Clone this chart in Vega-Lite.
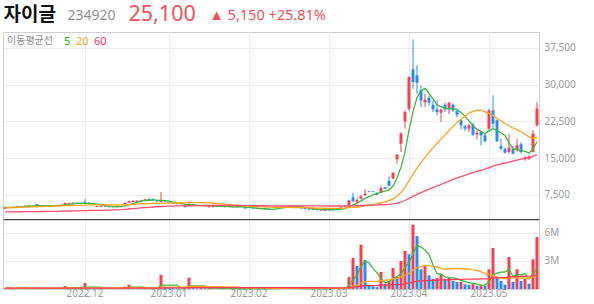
{
"$schema":"https://vega.github.io/schema/vega-lite/v6.json",
"padding":{"left":1,"top":2,"right":0,"bottom":0},
"bounds":"flush",
"spacing":1,
"resolve":{"legend":{"color":"independent"}},
"config":{"view":{"stroke":"#cfcfcf"},"font":"Noto Sans","axis":{"labelFont":"Noto Sans","labelColor":"#9a9a9a","labelFontSize":10,"gridColor":"#ececec","ticks":false,"domain":false}},
"data":{"values":[
{"d":"2022-11-03","o":4600,"h":5050,"l":4550,"c":4950,"v":80000,"m5":4900,"m20":4800,"m60":3980,"v5":70000,"v20":80000,"v60":85000},
{"d":"2022-11-04","o":4950,"h":5050,"l":4800,"c":4850,"v":210000,"m5":4900,"m20":4830,"m60":3990,"v5":100000,"v20":90000,"v60":85000},
{"d":"2022-11-07","o":4850,"h":5100,"l":4800,"c":5000,"v":90000,"m5":4920,"m20":4860,"m60":4000,"v5":100000,"v20":90000,"v60":85000},
{"d":"2022-11-08","o":5000,"h":5200,"l":4950,"c":5150,"v":70000,"m5":4970,"m20":4890,"m60":4010,"v5":100000,"v20":90000,"v60":85000},
{"d":"2022-11-09","o":5150,"h":5200,"l":5000,"c":5050,"v":60000,"m5":5000,"m20":4920,"m60":4020,"v5":100000,"v20":90000,"v60":85000},
{"d":"2022-11-10","o":5050,"h":5350,"l":5000,"c":5250,"v":200000,"m5":5060,"m20":4950,"m60":4030,"v5":130000,"v20":100000,"v60":86000},
{"d":"2022-11-11","o":5200,"h":5400,"l":5150,"c":5350,"v":80000,"m5":5160,"m20":4980,"m60":4040,"v5":100000,"v20":100000,"v60":86000},
{"d":"2022-11-14","o":5350,"h":5400,"l":5200,"c":5250,"v":60000,"m5":5210,"m20":5010,"m60":4050,"v5":90000,"v20":100000,"v60":86000},
{"d":"2022-11-15","o":5550,"h":5650,"l":5250,"c":5300,"v":100000,"m5":5240,"m20":5040,"m60":4060,"v5":100000,"v20":100000,"v60":86000},
{"d":"2022-11-16","o":5300,"h":5350,"l":5200,"c":5250,"v":70000,"m5":5280,"m20":5070,"m60":4070,"v5":100000,"v20":100000,"v60":87000},
{"d":"2022-11-17","o":5250,"h":5300,"l":5100,"c":5150,"v":50000,"m5":5260,"m20":5100,"m60":4080,"v5":70000,"v20":100000,"v60":87000},
{"d":"2022-11-18","o":5150,"h":5300,"l":5100,"c":5250,"v":60000,"m5":5240,"m20":5130,"m60":4090,"v5":70000,"v20":100000,"v60":87000},
{"d":"2022-11-21","o":5250,"h":5300,"l":5150,"c":5200,"v":50000,"m5":5230,"m20":5160,"m60":4100,"v5":70000,"v20":100000,"v60":87000},
{"d":"2022-11-22","o":5200,"h":5400,"l":5150,"c":5350,"v":70000,"m5":5240,"m20":5190,"m60":4110,"v5":60000,"v20":100000,"v60":87000},
{"d":"2022-11-23","o":5350,"h":5500,"l":5300,"c":5450,"v":90000,"m5":5280,"m20":5220,"m60":4130,"v5":60000,"v20":100000,"v60":88000},
{"d":"2022-11-24","o":5450,"h":5900,"l":5400,"c":5800,"v":320000,"m5":5410,"m20":5250,"m60":4150,"v5":120000,"v20":110000,"v60":88000},
{"d":"2022-11-25","o":5650,"h":5850,"l":5600,"c":5800,"v":120000,"m5":5520,"m20":5270,"m60":4170,"v5":130000,"v20":110000,"v60":88000},
{"d":"2022-11-28","o":5650,"h":5900,"l":5600,"c":5850,"v":90000,"m5":5650,"m20":5290,"m60":4190,"v5":140000,"v20":110000,"v60":89000},
{"d":"2022-11-29","o":5850,"h":5900,"l":5650,"c":5700,"v":80000,"m5":5720,"m20":5310,"m60":4210,"v5":140000,"v20":100000,"v60":89000},
{"d":"2022-11-30","o":5800,"h":5900,"l":5600,"c":5650,"v":70000,"m5":5760,"m20":5330,"m60":4230,"v5":140000,"v20":100000,"v60":89000},
{"d":"2022-12-01","o":6000,"h":6650,"l":5650,"c":5700,"v":640000,"m5":5740,"m20":5368,"m60":4250,"v5":200000,"v20":130000,"v60":95000},
{"d":"2022-12-02","o":5850,"h":5900,"l":5600,"c":5650,"v":150000,"m5":5710,"m20":5408,"m60":4270,"v5":210000,"v20":130000,"v60":95000},
{"d":"2022-12-05","o":5700,"h":5750,"l":5550,"c":5600,"v":100000,"m5":5660,"m20":5438,"m60":4290,"v5":210000,"v20":130000,"v60":95000},
{"d":"2022-12-06","o":5000,"h":5200,"l":4950,"c":5150,"v":80000,"m5":5550,"m20":5438,"m60":4300,"v5":210000,"v20":130000,"v60":95000},
{"d":"2022-12-07","o":5000,"h":5200,"l":4950,"c":5150,"v":70000,"m5":5450,"m20":5443,"m60":4310,"v5":210000,"v20":130000,"v60":95000},
{"d":"2022-12-08","o":5150,"h":5200,"l":4950,"c":5000,"v":90000,"m5":5310,"m20":5430,"m60":4330,"v5":100000,"v20":130000,"v60":95000},
{"d":"2022-12-09","o":5150,"h":5200,"l":4900,"c":4950,"v":60000,"m5":5170,"m20":5410,"m60":4350,"v5":80000,"v20":130000,"v60":95000},
{"d":"2022-12-12","o":4950,"h":5150,"l":4900,"c":5100,"v":50000,"m5":5070,"m20":5403,"m60":4380,"v5":70000,"v20":130000,"v60":95000},
{"d":"2022-12-13","o":4950,"h":5150,"l":4900,"c":5100,"v":60000,"m5":5060,"m20":5393,"m60":4410,"v5":70000,"v20":130000,"v60":95000},
{"d":"2022-12-14","o":5000,"h":5200,"l":4950,"c":5150,"v":50000,"m5":5060,"m20":5388,"m60":4450,"v5":60000,"v20":130000,"v60":95000},
{"d":"2022-12-15","o":5550,"h":5900,"l":5500,"c":5850,"v":250000,"m5":5230,"m20":5423,"m60":4510,"v5":90000,"v20":140000,"v60":97000},
{"d":"2022-12-16","o":5850,"h":6300,"l":5800,"c":6150,"v":460000,"m5":5470,"m20":5468,"m60":4580,"v5":170000,"v20":160000,"v60":100000},
{"d":"2022-12-19","o":6000,"h":6350,"l":5950,"c":6250,"v":120000,"m5":5700,"m20":5520,"m60":4650,"v5":190000,"v20":160000,"v60":100000},
{"d":"2022-12-20","o":6050,"h":6350,"l":6000,"c":6300,"v":90000,"m5":5940,"m20":5568,"m60":4720,"v5":190000,"v20":160000,"v60":100000},
{"d":"2022-12-21","o":6100,"h":6400,"l":6050,"c":6350,"v":100000,"m5":6180,"m20":5613,"m60":4790,"v5":200000,"v20":160000,"v60":100000},
{"d":"2022-12-22","o":6250,"h":6650,"l":6200,"c":6550,"v":110000,"m5":6320,"m20":5650,"m60":4860,"v5":180000,"v20":140000,"v60":100000},
{"d":"2022-12-23","o":6600,"h":6700,"l":6350,"c":6400,"v":100000,"m5":6370,"m20":5680,"m60":4930,"v5":100000,"v20":140000,"v60":100000},
{"d":"2022-12-26","o":6650,"h":6700,"l":6450,"c":6500,"v":80000,"m5":6420,"m20":5713,"m60":4990,"v5":100000,"v20":140000,"v60":100000},
{"d":"2022-12-27","o":6400,"h":6450,"l":6050,"c":6100,"v":70000,"m5":6380,"m20":5733,"m60":5040,"v5":90000,"v20":130000,"v60":100000},
{"d":"2022-12-28","o":6050,"h":8050,"l":6000,"c":6250,"v":1530000,"m5":6360,"m20":5763,"m60":5090,"v5":380000,"v20":200000,"v60":122000},
{"d":"2022-12-29","o":6300,"h":6350,"l":6050,"c":6100,"v":250000,"m5":6270,"m20":5783,"m60":5130,"v5":410000,"v20":210000,"v60":124000},
{"d":"2023-01-02","o":6100,"h":6150,"l":5850,"c":5900,"v":120000,"m5":6170,"m20":5795,"m60":5160,"v5":410000,"v20":210000,"v60":124000},
{"d":"2023-01-03","o":5700,"h":5750,"l":5550,"c":5600,"v":100000,"m5":5990,"m20":5795,"m60":5180,"v5":410000,"v20":210000,"v60":124000},
{"d":"2023-01-04","o":5550,"h":5700,"l":5500,"c":5650,"v":80000,"m5":5900,"m20":5820,"m60":5200,"v5":420000,"v20":210000,"v60":124000},
{"d":"2023-01-05","o":5600,"h":5650,"l":5500,"c":5550,"v":70000,"m5":5760,"m20":5840,"m60":5210,"v5":120000,"v20":210000,"v60":124000},
{"d":"2023-01-06","o":5300,"h":5350,"l":4900,"c":4950,"v":150000,"m5":5530,"m20":5838,"m60":5220,"v5":100000,"v20":210000,"v60":125000},
{"d":"2023-01-09","o":5200,"h":6200,"l":5150,"c":5600,"v":1210000,"m5":5470,"m20":5870,"m60":5240,"v5":320000,"v20":270000,"v60":145000},
{"d":"2023-01-10","o":5600,"h":5650,"l":5400,"c":5450,"v":100000,"m5":5440,"m20":5888,"m60":5250,"v5":320000,"v20":270000,"v60":145000},
{"d":"2023-01-11","o":5300,"h":5350,"l":5150,"c":5200,"v":80000,"m5":5350,"m20":5893,"m60":5260,"v5":320000,"v20":270000,"v60":145000},
{"d":"2023-01-12","o":5300,"h":5350,"l":5150,"c":5200,"v":100000,"m5":5280,"m20":5895,"m60":5270,"v5":330000,"v20":270000,"v60":145000},
{"d":"2023-01-13","o":5250,"h":5300,"l":5100,"c":5150,"v":90000,"m5":5320,"m20":5860,"m60":5280,"v5":320000,"v20":270000,"v60":145000},
{"d":"2023-01-16","o":4950,"h":5350,"l":4900,"c":5250,"v":100000,"m5":5250,"m20":5815,"m60":5290,"v5":90000,"v20":250000,"v60":145000},
{"d":"2023-01-17","o":4950,"h":5300,"l":4900,"c":5250,"v":80000,"m5":5210,"m20":5765,"m60":5300,"v5":90000,"v20":250000,"v60":145000},
{"d":"2023-01-18","o":5200,"h":5250,"l":4950,"c":5000,"v":60000,"m5":5170,"m20":5700,"m60":5300,"v5":90000,"v20":250000,"v60":144000},
{"d":"2023-01-19","o":5150,"h":5200,"l":4950,"c":5000,"v":50000,"m5":5130,"m20":5633,"m60":5300,"v5":80000,"v20":240000,"v60":144000},
{"d":"2023-01-20","o":4950,"h":5200,"l":4900,"c":5150,"v":60000,"m5":5130,"m20":5563,"m60":5300,"v5":70000,"v20":230000,"v60":144000},
{"d":"2023-01-25","o":5150,"h":5200,"l":4950,"c":5000,"v":50000,"m5":5080,"m20":5493,"m60":5300,"v5":60000,"v20":230000,"v60":143000},
{"d":"2023-01-26","o":5000,"h":5050,"l":4900,"c":4950,"v":40000,"m5":5020,"m20":5415,"m60":5290,"v5":50000,"v20":220000,"v60":143000},
{"d":"2023-01-27","o":4950,"h":5150,"l":4900,"c":5100,"v":50000,"m5":5040,"m20":5365,"m60":5290,"v5":50000,"v20":220000,"v60":142000},
{"d":"2023-01-30","o":5100,"h":5150,"l":4950,"c":5000,"v":40000,"m5":5040,"m20":5303,"m60":5280,"v5":50000,"v20":150000,"v60":142000},
{"d":"2023-01-31","o":5000,"h":5050,"l":4650,"c":4700,"v":60000,"m5":4950,"m20":5233,"m60":5270,"v5":50000,"v20":140000,"v60":142000},
{"d":"2023-02-01","o":4950,"h":5000,"l":4750,"c":4800,"v":50000,"m5":4910,"m20":5178,"m60":5270,"v5":50000,"v20":130000,"v60":141000},
{"d":"2023-02-02","o":4850,"h":4900,"l":4650,"c":4700,"v":50000,"m5":4860,"m20":5133,"m60":5260,"v5":50000,"v20":130000,"v60":141000},
{"d":"2023-02-03","o":4800,"h":4850,"l":4550,"c":4600,"v":40000,"m5":4760,"m20":5080,"m60":5250,"v5":50000,"v20":130000,"v60":140000},
{"d":"2023-02-06","o":4700,"h":4750,"l":4500,"c":4550,"v":50000,"m5":4670,"m20":5030,"m60":5240,"v5":50000,"v20":130000,"v60":140000},
{"d":"2023-02-07","o":4650,"h":4700,"l":4450,"c":4500,"v":40000,"m5":4630,"m20":5008,"m60":5240,"v5":50000,"v20":120000,"v60":140000},
{"d":"2023-02-08","o":4650,"h":4700,"l":4400,"c":4450,"v":50000,"m5":4560,"m20":4950,"m60":5230,"v5":50000,"v20":70000,"v60":139000},
{"d":"2023-02-09","o":4550,"h":4600,"l":4400,"c":4450,"v":40000,"m5":4510,"m20":4900,"m60":5230,"v5":40000,"v20":70000,"v60":139000},
{"d":"2023-02-10","o":4850,"h":5200,"l":4800,"c":5150,"v":80000,"m5":4620,"m20":4898,"m60":5230,"v5":50000,"v20":70000,"v60":138000},
{"d":"2023-02-13","o":4900,"h":5200,"l":4850,"c":5150,"v":70000,"m5":4740,"m20":4895,"m60":5230,"v5":60000,"v20":70000,"v60":138000},
{"d":"2023-02-14","o":4950,"h":5250,"l":4900,"c":5200,"v":60000,"m5":4880,"m20":4898,"m60":5230,"v5":60000,"v20":70000,"v60":137000},
{"d":"2023-02-15","o":4950,"h":5250,"l":4900,"c":5150,"v":50000,"m5":5020,"m20":4893,"m60":5230,"v5":60000,"v20":70000,"v60":137000},
{"d":"2023-02-16","o":5000,"h":5250,"l":4950,"c":5200,"v":60000,"m5":5170,"m20":4890,"m60":5230,"v5":60000,"v20":70000,"v60":136000},
{"d":"2023-02-17","o":5200,"h":5250,"l":5000,"c":5050,"v":50000,"m5":5150,"m20":4893,"m60":5220,"v5":60000,"v20":60000,"v60":136000},
{"d":"2023-02-20","o":4950,"h":5000,"l":4650,"c":4700,"v":50000,"m5":5060,"m20":4878,"m60":5220,"v5":50000,"v20":60000,"v60":135000},
{"d":"2023-02-21","o":4800,"h":4850,"l":4550,"c":4600,"v":40000,"m5":4940,"m20":4850,"m60":5210,"v5":50000,"v20":60000,"v60":135000},
{"d":"2023-02-22","o":4700,"h":4750,"l":4400,"c":4450,"v":50000,"m5":4800,"m20":4823,"m60":5210,"v5":50000,"v20":60000,"v60":134000},
{"d":"2023-02-23","o":4400,"h":4650,"l":4350,"c":4600,"v":40000,"m5":4680,"m20":4805,"m60":5200,"v5":50000,"v20":60000,"v60":134000},
{"d":"2023-02-24","o":4600,"h":4650,"l":4300,"c":4350,"v":50000,"m5":4540,"m20":4768,"m60":5200,"v5":50000,"v20":60000,"v60":133000},
{"d":"2023-02-27","o":4250,"h":4600,"l":4200,"c":4550,"v":60000,"m5":4510,"m20":4745,"m60":5200,"v5":50000,"v20":60000,"v60":133000},
{"d":"2023-02-28","o":4200,"h":4500,"l":4150,"c":4450,"v":50000,"m5":4480,"m20":4733,"m60":5200,"v5":50000,"v20":60000,"v60":132000},
{"d":"2023-03-02","o":4550,"h":4600,"l":4250,"c":4300,"v":60000,"m5":4450,"m20":4708,"m60":5190,"v5":50000,"v20":60000,"v60":131000},
{"d":"2023-03-03","o":4600,"h":4650,"l":4350,"c":4400,"v":80000,"m5":4410,"m20":4693,"m60":5190,"v5":60000,"v20":60000,"v60":130000},
{"d":"2023-03-06","o":4500,"h":4700,"l":4450,"c":4650,"v":70000,"m5":4470,"m20":4695,"m60":5190,"v5":60000,"v20":60000,"v60":129000},
{"d":"2023-03-07","o":4700,"h":5000,"l":4650,"c":4900,"v":100000,"m5":4540,"m20":4713,"m60":5194,"v5":70000,"v20":60000,"v60":128000},
{"d":"2023-03-08","o":4950,"h":5300,"l":4900,"c":5150,"v":200000,"m5":4680,"m20":4745,"m60":5197,"v5":100000,"v20":70000,"v60":127000},
{"d":"2023-03-09","o":5200,"h":6400,"l":5100,"c":6350,"v":1290000,"m5":5090,"m20":4840,"m60":5220,"v5":350000,"v20":130000,"v60":147000},
{"d":"2023-03-10","o":7000,"h":7900,"l":6000,"c":6150,"v":3320000,"m5":5440,"m20":4925,"m60":5238,"v5":1000000,"v20":290000,"v60":202000},
{"d":"2023-03-13","o":6050,"h":6800,"l":5700,"c":6400,"v":2460000,"m5":5790,"m20":4988,"m60":5259,"v5":1470000,"v20":410000,"v60":242000},
{"d":"2023-03-14","o":6700,"h":7500,"l":6500,"c":7150,"v":4750000,"m5":6240,"m20":5088,"m60":5293,"v5":2400000,"v20":640000,"v60":320000},
{"d":"2023-03-15","o":7400,"h":8600,"l":7300,"c":7700,"v":3110000,"m5":6750,"m20":5213,"m60":5323,"v5":2990000,"v20":790000,"v60":368000},
{"d":"2023-03-16","o":8200,"h":8300,"l":8000,"c":8050,"v":400000,"m5":7090,"m20":5358,"m60":5355,"v5":2810000,"v20":810000,"v60":367000},
{"d":"2023-03-17","o":8200,"h":8300,"l":8000,"c":8100,"v":290000,"m5":7480,"m20":5503,"m60":5386,"v5":2200000,"v20":820000,"v60":370000},
{"d":"2023-03-20","o":7900,"h":8000,"l":7400,"c":7500,"v":210000,"m5":7700,"m20":5625,"m60":5406,"v5":1750000,"v20":830000,"v60":372000},
{"d":"2023-03-21","o":7900,"h":9300,"l":7800,"c":8850,"v":1820000,"m5":8040,"m20":5833,"m60":5448,"v5":1170000,"v20":920000,"v60":400000},
{"d":"2023-03-22","o":9050,"h":9150,"l":8650,"c":8750,"v":570000,"m5":8250,"m20":6040,"m60":5484,"v5":660000,"v20":940000,"v60":408000},
{"d":"2023-03-24","o":10350,"h":11200,"l":9200,"c":9300,"v":860000,"m5":8500,"m20":6283,"m60":5533,"v5":750000,"v20":980000,"v60":421000},
{"d":"2023-03-27","o":10770,"h":12100,"l":10700,"c":12000,"v":2250000,"m5":9280,"m20":6653,"m60":5624,"v5":1140000,"v20":1090000,"v60":457000},
{"d":"2023-03-28","o":14740,"h":15800,"l":13840,"c":15680,"v":1290000,"m5":10916,"m20":7219,"m60":5784,"v5":1360000,"v20":1150000,"v60":477000},
{"d":"2023-03-29","o":17930,"h":20300,"l":16230,"c":19970,"v":3000000,"m5":13140,"m20":7990,"m60":6013,"v5":1590000,"v20":1300000,"v60":502000},
{"d":"2023-03-31","o":22500,"h":24800,"l":21000,"c":24400,"v":4070000,"m5":16270,"m20":8988,"m60":6318,"v5":2290000,"v20":1500000,"v60":565000},
{"d":"2023-04-03","o":25080,"h":31700,"l":24600,"c":31560,"v":3720000,"m5":20722,"m20":10351,"m60":6745,"v5":2870000,"v20":1680000,"v60":625000},
{"d":"2023-04-04","o":33130,"h":39260,"l":29170,"c":30540,"v":6890000,"m5":24430,"m20":11658,"m60":7161,"v5":3790000,"v20":2020000,"v60":739000},
{"d":"2023-04-05","o":31900,"h":33950,"l":28150,"c":30400,"v":5680000,"m5":27374,"m20":12945,"m60":7573,"v5":4670000,"v20":2300000,"v60":832000},
{"d":"2023-04-06","o":28840,"h":29860,"l":25430,"c":26800,"v":2110000,"m5":28740,"m20":14040,"m60":7928,"v5":4490000,"v20":2400000,"v60":866000},
{"d":"2023-04-07","o":26400,"h":28150,"l":25430,"c":26900,"v":2460000,"m5":29240,"m20":15128,"m60":8293,"v5":4170000,"v20":2520000,"v60":904000},
{"d":"2023-04-10","o":27330,"h":27700,"l":25700,"c":26300,"v":1470000,"m5":28188,"m20":16125,"m60":8638,"v5":3720000,"v20":2530000,"v60":909000},
{"d":"2023-04-11","o":25900,"h":26800,"l":24400,"c":24960,"v":1100000,"m5":27072,"m20":17066,"m60":8964,"v5":2560000,"v20":2420000,"v60":925000},
{"d":"2023-04-12","o":24960,"h":26800,"l":23730,"c":24400,"v":1180000,"m5":25872,"m20":17966,"m60":9284,"v5":1660000,"v20":2360000,"v60":944000},
{"d":"2023-04-13","o":24260,"h":25100,"l":22360,"c":24880,"v":1640000,"m5":25488,"m20":18852,"m60":9612,"v5":1570000,"v20":2200000,"v60":969000},
{"d":"2023-04-14","o":25900,"h":26300,"l":24400,"c":24960,"v":1100000,"m5":25100,"m20":19715,"m60":9942,"v5":1300000,"v20":2100000,"v60":986000},
{"d":"2023-04-17","o":24960,"h":26500,"l":24000,"c":26300,"v":1180000,"m5":25100,"m20":20628,"m60":10293,"v5":1240000,"v20":2140000,"v60":1004000},
{"d":"2023-04-18","o":25900,"h":26200,"l":24400,"c":24750,"v":860000,"m5":25058,"m20":21460,"m60":10618,"v5":1190000,"v20":2170000,"v60":1017000},
{"d":"2023-04-19","o":24600,"h":25000,"l":23400,"c":23860,"v":750000,"m5":24950,"m20":22278,"m60":10932,"v5":1110000,"v20":2200000,"v60":1029000},
{"d":"2023-04-20","o":22700,"h":23000,"l":20900,"c":21690,"v":780000,"m5":24312,"m20":22920,"m60":11210,"v5":930000,"v20":2150000,"v60":1041000},
{"d":"2023-04-21","o":21480,"h":21800,"l":20500,"c":21000,"v":500000,"m5":23520,"m20":23533,"m60":11474,"v5":810000,"v20":2140000,"v60":1048000},
{"d":"2023-04-24","o":21000,"h":22000,"l":20300,"c":21690,"v":450000,"m5":22598,"m20":24152,"m60":11752,"v5":670000,"v20":2120000,"v60":1055000},
{"d":"2023-04-25","o":21800,"h":22200,"l":19500,"c":19770,"v":520000,"m5":21602,"m20":24541,"m60":11999,"v5":600000,"v20":2040000,"v60":1063000},
{"d":"2023-04-26","o":19770,"h":21000,"l":18820,"c":20170,"v":360000,"m5":20864,"m20":24765,"m60":12251,"v5":520000,"v20":1990000,"v60":1068000},
{"d":"2023-04-27","o":20300,"h":20600,"l":17600,"c":19640,"v":400000,"m5":20454,"m20":24749,"m60":12495,"v5":450000,"v20":1860000,"v60":1074000},
{"d":"2023-04-28","o":19640,"h":19800,"l":18200,"c":18420,"v":380000,"m5":19938,"m20":24450,"m60":12723,"v5":420000,"v20":1670000,"v60":1079000},
{"d":"2023-05-02","o":21000,"h":25080,"l":20660,"c":24750,"v":2110000,"m5":20550,"m20":24109,"m60":13056,"v5":750000,"v20":1590000,"v60":1114000},
{"d":"2023-05-03","o":24750,"h":27800,"l":20960,"c":22010,"v":4390000,"m5":20998,"m20":23683,"m60":13344,"v5":1530000,"v20":1470000,"v60":1186000},
{"d":"2023-05-04","o":22710,"h":22900,"l":18300,"c":18420,"v":1290000,"m5":20648,"m20":23084,"m60":13575,"v5":1710000,"v20":1250000,"v60":1207000},
{"d":"2023-05-08","o":17450,"h":18950,"l":16580,"c":16900,"v":860000,"m5":20100,"m20":22589,"m60":13780,"v5":1810000,"v20":1190000,"v60":1220000},
{"d":"2023-05-09","o":16900,"h":17100,"l":15900,"c":16090,"v":460000,"m5":19634,"m20":22048,"m60":13974,"v5":1820000,"v20":1090000,"v60":1227000},
{"d":"2023-05-10","o":16230,"h":19970,"l":15880,"c":17110,"v":3430000,"m5":18106,"m20":21589,"m60":14185,"v5":2090000,"v20":1190000,"v60":1284000},
{"d":"2023-05-11","o":16900,"h":17400,"l":15700,"c":15880,"v":750000,"m5":16880,"m20":21135,"m60":14375,"v5":1360000,"v20":1170000,"v60":1296000},
{"d":"2023-05-12","o":16580,"h":18950,"l":16300,"c":17600,"v":2110000,"m5":16716,"m20":20795,"m60":14583,"v5":1520000,"v20":1210000,"v60":1329000},
{"d":"2023-05-15","o":17800,"h":18250,"l":15900,"c":16230,"v":860000,"m5":16582,"m20":20362,"m60":14767,"v5":1520000,"v20":1180000,"v60":1343000},
{"d":"2023-05-16","o":14740,"h":15410,"l":14450,"c":15060,"v":1100000,"m5":16376,"m20":19867,"m60":14932,"v5":1650000,"v20":1180000,"v60":1360000},
{"d":"2023-05-17","o":14860,"h":15500,"l":14600,"c":15350,"v":570000,"m5":16024,"m20":19320,"m60":15102,"v5":1080000,"v20":1140000,"v60":1369000},
{"d":"2023-05-18","o":16230,"h":20700,"l":16100,"c":19950,"v":3180000,"m5":16838,"m20":19080,"m60":15347,"v5":1560000,"v20":1260000,"v60":1421000},
{"d":"2023-05-19","o":21690,"h":26400,"l":21400,"c":25100,"v":5570000,"m5":18338,"m20":19142,"m60":15682,"v5":2260000,"v20":1500000,"v60":1513000}
]},
"vconcat":[
{
"width":536,"height":187,
"encoding":{"x":{"field":"d","type":"ordinal","scale":{"paddingInner":0.25,"paddingOuter":0.125},
  "axis":{"orient":"bottom","values":["2022-12-01","2023-01-02","2023-02-01","2023-03-02","2023-04-03","2023-05-02"],"labels":false,"ticks":false,"domain":true,"domainColor":"#444444","domainWidth":1.2,"grid":true,
  "title":"25,100","titleX":125,"titleY":-199,"titleAlign":"left","titleAnchor":"start","titleBaseline":"alphabetic","titleAngle":0,"titleFont":"Noto Sans","titleFontSize":21.5,"titleFontWeight":"normal","titleColor":"#f0505a","titlePadding":0}}},
"layer":[
{"mark":{"type":"rule","strokeWidth":1},
 "encoding":{"y":{"field":"l","type":"quantitative","scale":{"domain":[2535,40760],"nice":false,"zero":false},
   "axis":{"orient":"right","values":[7500,15000,22500,30000,37500],"format":",d","labelPadding":5,"grid":true,
   "title":"자이글","titleX":-536,"titleY":-12,"titleAlign":"left","titleAnchor":"start","titleBaseline":"alphabetic","titleAngle":0,"titleFont":"Noto Sans CJK KR","titleFontSize":19,"titleFontWeight":"bold","titleColor":"#111111","titlePadding":0}},
  "y2":{"field":"h"},
  "color":{"condition":{"test":"datum.c >= datum.o","value":"#f5404f"},"value":"#2b8cf0"}}},
{"mark":{"type":"bar"},
 "encoding":{"y":{"field":"o","type":"quantitative"},"y2":{"field":"c"},
  "color":{"condition":{"test":"datum.c >= datum.o","value":"#f5404f"},"value":"#2b8cf0"}}},
{"transform":[{"fold":["m5","m20","m60"],"as":["k","val"]}],
 "mark":{"type":"line","strokeWidth":1.3},
 "encoding":{"y":{"field":"val","type":"quantitative"},
  "color":{"field":"k","type":"nominal","scale":{"domain":["m5","m20","m60"],"range":["#3cba3c","#ffa31f","#ff4d70"]},
   "legend":{"orient":"top-left","offset":4,"padding":0,"direction":"horizontal","gridAlign":"none","title":"이동평균선","titleOrient":"left","titleFont":"Noto Sans CJK KR","titleFontSize":10,"titleFontWeight":"normal","titleColor":"#8c8c8c","titlePadding":10,"labelFont":"Noto Sans","labelFontSize":11,"labelOffset":-10,"columnPadding":4,"symbolType":"circle","symbolSize":1,"symbolOpacity":0,"symbolStrokeWidth":0,"symbolFillColor":"transparent","symbolStrokeColor":"transparent",
   "labelExpr":"replace(datum.label, 'm', '')",
   "encode":{"labels":{"update":{"fill":{"signal":"datum.value == 'm5' ? '#22b022' : datum.value == 'm20' ? '#ffa31a' : '#f0306a'"}}}}}}}}
]
},
{
"width":536,"height":69,
"encoding":{"x":{"field":"d","type":"ordinal","scale":{"paddingInner":0.25,"paddingOuter":0.125},
  "axis":{"orient":"bottom","values":["2022-12-01","2023-01-02","2023-02-01","2023-03-02","2023-04-03","2023-05-02"],"labelExpr":"replace(slice(datum.value, 0, 7), '-', '.')","labelAngle":0,"labelPadding":-1,"grid":true,
  "title":"▲ 5,150 +25.81%","titleX":206,"titleY":-270,"titleAlign":"left","titleAnchor":"start","titleBaseline":"alphabetic","titleAngle":0,"titleFont":"Noto Sans","titleFontSize":14.5,"titleFontWeight":"normal","titleColor":"#f0505a","titlePadding":0}}},
"layer":[
{"transform":[{"window":[{"op":"lag","field":"v","as":"pv"}]}],
 "mark":{"type":"bar"},
 "encoding":{"y":{"field":"v","type":"quantitative","scale":{"domain":[0,7390000],"nice":false},
   "axis":{"orient":"right","values":[3000000,6000000],"format":"~s","labelPadding":5,"grid":true,
   "title":"234920","titleX":-472,"titleY":-201,"titleAlign":"left","titleAnchor":"start","titleBaseline":"alphabetic","titleAngle":0,"titleFont":"Noto Sans","titleFontSize":14,"titleFontWeight":"normal","titleColor":"#8f8f8f","titlePadding":0}},
  "color":{"condition":{"test":"datum.v > datum.pv","value":"#f5404f"},"value":"#2b8cf0"}}},
{"mark":{"type":"line","strokeWidth":1.3,"color":"#3cba3c"},"encoding":{"y":{"field":"v5","type":"quantitative"}}},
{"mark":{"type":"line","strokeWidth":1.3,"color":"#ffa31f"},"encoding":{"y":{"field":"v20","type":"quantitative"}}},
{"mark":{"type":"line","strokeWidth":1.3,"color":"#ff3d5a"},"encoding":{"y":{"field":"v60","type":"quantitative"}}}
]
}
]
}
